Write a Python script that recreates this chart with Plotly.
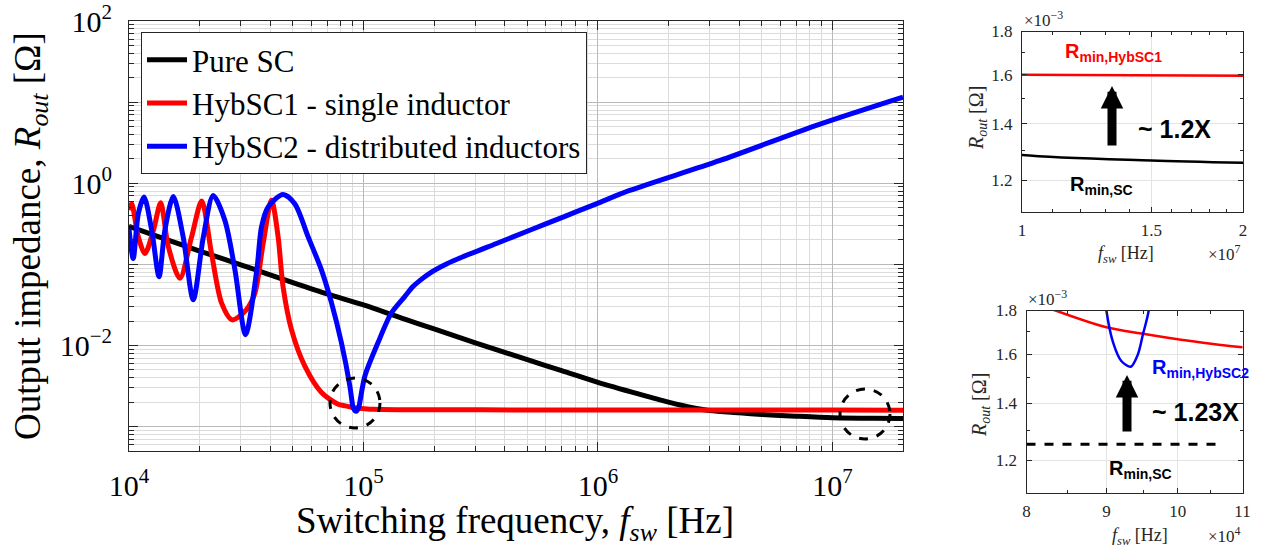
import plotly.graph_objects as go

W, H = 1261, 550

# ---------------- data ----------------
# Pure SC
f_sc = [1.0e4, 1.5e4, 2.0e4, 3.0e4, 5.0e4, 7.0e4, 1.0e5, 1.5e5, 2.0e5, 3.0e5, 5.0e5, 7.0e5,
        1.0e6, 1.5e6, 2.0e6, 2.5e6, 3.0e6, 4.0e6, 5.0e6, 7.0e6, 1.0e7, 1.5e7, 2.0e7]
r_sc = [0.295, 0.195, 0.146, 0.0989, 0.0596, 0.0432, 0.0316, 0.0211, 0.0160, 0.0108, 6.68e-3, 4.9e-3,
        3.51e-3, 2.51e-3, 2.0e-3, 1.72e-3, 1.574e-3, 1.48e-3, 1.413e-3, 1.343e-3, 1.285e-3, 1.266e-3,
        1.258e-3]

# HybSC1 - single inductor
f_h1 = [1.0e4, 1.026e4, 1.096e4, 1.169e4, 1.271e4, 1.365e4, 1.472e4, 1.648e4, 1.849e4, 2.042e4,
        2.249e4, 2.483e4, 2.754e4, 3.162e4, 3.443e4, 3.733e4, 4.055e4, 4.325e4, 4.539e4, 4.932e4,
        5.623e4, 6.622e4, 7.798e4, 8.35e4, 9.0e4, 9.5e4, 1.0e5, 1.1e5, 1.5e5, 2.0e5,
        5.0e5, 1.0e6, 1.0e7, 2.0e7]
r_h1 = [0.468, 0.562, 0.218, 0.136, 0.263, 0.575, 0.164, 0.0673, 0.218, 0.603,
        0.136, 0.0333, 0.0207, 0.0275, 0.0442, 0.181, 0.617, 0.218, 0.0532, 0.0157,
        5.56e-3, 2.63e-3, 1.89e-3, 1.80e-3, 1.72e-3, 1.69e-3, 1.665e-3, 1.63e-3, 1.615e-3, 1.61e-3,
        1.605e-3, 1.60e-3, 1.60e-3, 1.595e-3]

# HybSC2 - distributed inductors
f_h2 = [1.0e4, 1.042e4, 1.096e4, 1.159e4, 1.250e4, 1.343e4, 1.422e4, 1.545e4, 1.702e4, 1.879e4,
        2.075e4, 2.286e4, 2.564e4, 2.831e4, 3.141e4, 3.508e4, 3.673e4, 3.917e4, 4.539e4, 5.093e4,
        5.808e4, 6.622e4, 7.311e4, 8.054e4, 8.750e4, 9.0e4, 9.09e4, 9.2e4, 9.33e4, 9.43e4,
        9.5e4, 9.58e4, 1.014e5, 1.153e5, 1.315e5, 1.500e5, 1.626e5, 1.738e5, 1.914e5, 2.259e5,
        2.655e5, 3.690e5, 5.117e5, 7.096e5, 9.840e5, 1.365e6, 3.296e6, 8.790e6, 2.0e7]
r_h2 = [0.275, 0.118, 0.422, 0.675, 0.263, 0.0705, 0.263, 0.687, 0.219, 0.0366,
        0.218, 0.706, 0.349, 0.0851, 0.0136, 0.085, 0.289, 0.508, 0.728, 0.558,
        0.218, 0.0851, 0.0333, 0.0108, 3.16e-3, 1.80e-3, 1.65e-3, 1.57e-3, 1.546e-3, 1.60e-3,
        1.69e-3, 1.80e-3, 4.2e-3, 0.0108, 0.0251, 0.0401, 0.0532, 0.0631, 0.0776, 0.101,
        0.124, 0.181, 0.263, 0.383, 0.558, 0.815, 1.897, 5.33, 11.56]

# R_min,SC reference level (dashed, lower inset)
f_ref = [8.0e4, 1.07e5]
r_ref = [1.253e-3, 1.253e-3]

names = ["Pure SC", "HybSC1 - single inductor", "HybSC2 - distributed inductors"]
colors = ["#000000", "#ff0000", "#0000ff"]

main_xticks = [1e4, 1e5, 1e6, 1e7]
main_xtext = ["10<sup>4</sup>", "10<sup>5</sup>", "10<sup>6</sup>", "10<sup>7</sup>"]
main_yticks = [1e-3, 1e-2, 1e-1, 1e0, 1e1, 1e2]
main_ytext = ["", "10<sup>\u22122</sup>", "", "10<sup>0</sup>", "", "10<sup>2</sup>"]

in_yticks = [1.2e-3, 1.4e-3, 1.6e-3, 1.8e-3]
in_ytext = ["1.2", "1.4", "1.6", "1.8"]
top_xticks = [1.0e7, 1.5e7, 2.0e7]
top_xtext = ["1", "1.5", "2"]
bot_xticks = [8e4, 9e4, 1e5, 1.1e5]
bot_xtext = ["8", "9", "10", "11"]

# ---------------- helpers for layout ----------------
def fx(p):
    return p / W

def fy(p):
    return 1 - p / H

SERIF = "Liberation Serif"
SANS = "Liberation Sans"

main_minor_x = [k * 10 ** n for n in range(4, 8) for k in range(2, 10) if k * 10 ** n <= 2e7]
main_minor_y = [k * 10.0 ** n for n in range(-4, 2) for k in range(2, 10) if 5e-4 <= k * 10.0 ** n <= 100]

fig = go.Figure()

# main traces
for f, r, nm, c in zip([f_sc, f_h1, f_h2], [r_sc, r_h1, r_h2], names, colors):
    fig.add_trace(go.Scatter(x=f, y=r, name=nm, mode="lines",
                             line=dict(color=c, width=5, shape="spline", smoothing=0.8),
                             xaxis="x", yaxis="y"))

# top inset
for f, r, c in zip([f_h1, f_sc], [r_h1, r_sc], [colors[1], colors[0]]):
    fig.add_trace(go.Scatter(x=f, y=r, mode="lines", showlegend=False,
                             line=dict(color=c, width=2.5, shape="spline", smoothing=0.8),
                             xaxis="x2", yaxis="y2"))
# bottom inset
for f, r, c in zip([f_h1, f_h2], [r_h1, r_h2], [colors[1], colors[2]]):
    fig.add_trace(go.Scatter(x=f, y=r, mode="lines", showlegend=False,
                             line=dict(color=c, width=2.5, shape="spline", smoothing=0.8),
                             xaxis="x3", yaxis="y3"))
fig.add_trace(go.Scatter(x=f_ref, y=r_ref, mode="lines", showlegend=False,
                         line=dict(color="black", width=3, dash="dash"),
                         xaxis="x3", yaxis="y3"))

axis_common = dict(showline=True, linecolor="#262626", linewidth=1, mirror="allticks",
                   ticks="inside", tickcolor="#262626", zeroline=False, automargin=False,
                   ticklabeloverflow="allow")

fig.update_layout(
    width=W, height=H,
    margin=dict(l=0, r=0, t=0, b=0),
    paper_bgcolor="white", plot_bgcolor="white",
    showlegend=True,
    legend=dict(x=fx(141), y=fy(32), xanchor="left", yanchor="top",
                bgcolor="white", bordercolor="#262626", borderwidth=1,
                font=dict(family=SERIF, size=31, color="black"),
                tracegroupgap=0, itemwidth=40),
    xaxis=dict(type="log", range=[4, 7.30103], domain=[fx(129), fx(903)], anchor="y",
               tickvals=main_xticks, ticktext=main_xtext, ticklen=9,
               tickfont=dict(family=SERIF, size=30, color="black"), ticklabelstandoff=8,
               showgrid=True, gridcolor="#b9b9b9", gridwidth=1,
               minor=dict(tickvals=main_minor_x, ticks="inside", ticklen=5, tickcolor="#262626",
                          showgrid=True, gridcolor="#dcdcdc", gridwidth=1),
               **axis_common),
    yaxis=dict(type="log", range=[-3.30103, 2.0005], domain=[fy(451), fy(21)], anchor="x",
               tickvals=main_yticks, ticktext=main_ytext, ticklen=9,
               tickfont=dict(family=SERIF, size=30, color="black"), ticklabelstandoff=10,
               showgrid=True, gridcolor="#b9b9b9", gridwidth=1,
               minor=dict(tickvals=main_minor_y, ticks="inside", ticklen=5, tickcolor="#262626",
                          showgrid=True, gridcolor="#dcdcdc", gridwidth=1),
               **axis_common),
    xaxis2=dict(type="log", range=[7, 7.30103], domain=[fx(1022), fx(1243)], anchor="y2",
                tickvals=top_xticks, ticktext=top_xtext, ticklen=5,
                tickfont=dict(family=SERIF, size=17, color="#262626"), ticklabelstandoff=3,
                showgrid=True, gridcolor="#e3e3e3",
                minor=dict(tickvals=[1.1e7, 1.2e7, 1.3e7, 1.4e7, 1.6e7, 1.7e7, 1.8e7, 1.9e7],
                           ticks="inside", ticklen=3, tickcolor="#262626", showgrid=False),
                **axis_common),
    yaxis2=dict(type="log", range=[-2.95861, -2.74473], domain=[fy(212), fy(31.5)], anchor="x2",
                tickvals=in_yticks, ticktext=in_ytext, ticklen=5,
                tickfont=dict(family=SERIF, size=17, color="#262626"), ticklabelstandoff=5,
                showgrid=True, gridcolor="#e3e3e3",
                minor=dict(tickvals=[1.1e-3, 1.3e-3, 1.5e-3, 1.7e-3], ticks="inside", ticklen=3,
                           tickcolor="#262626", showgrid=False),
                **axis_common),
    xaxis3=dict(type="log", range=[4.90309, 5.04139], domain=[fx(1026.5), fx(1242.5)], anchor="y3",
                tickvals=bot_xticks, ticktext=bot_xtext, ticklen=5,
                tickfont=dict(family=SERIF, size=17, color="#262626"), ticklabelstandoff=3,
                showgrid=True, gridcolor="#e3e3e3",
                minor=dict(tickvals=[8.5e4, 9.5e4, 1.05e5], ticks="inside", ticklen=3,
                           tickcolor="#262626", showgrid=False),
                **axis_common),
    yaxis3=dict(type="log", range=[-2.95861, -2.74473], domain=[fy(492.5), fy(310.5)], anchor="x3",
                tickvals=in_yticks, ticktext=in_ytext, ticklen=5,
                tickfont=dict(family=SERIF, size=17, color="#262626"), ticklabelstandoff=5,
                showgrid=True, gridcolor="#e3e3e3",
                minor=dict(tickvals=[1.1e-3, 1.3e-3, 1.5e-3, 1.7e-3], ticks="inside", ticklen=3,
                           tickcolor="#262626", showgrid=False),
                **axis_common),
)

ann = []
def text(x, y, s, size, family=SERIF, color="black", xanchor="center", yanchor="middle", angle=0):
    ann.append(dict(x=fx(x), y=fy(y), xref="paper", yref="paper", text=s, showarrow=False,
                    xanchor=xanchor, yanchor=yanchor, textangle=angle,
                    font=dict(family=family, size=size, color=color)))

# main axis titles
text(515, 523, "Switching frequency, <i>f</i><sub><i>sw</i></sub> [Hz]", 37)
text(30, 236, "Output impedance, <i>R</i><sub><i>out</i></sub> [\u03a9]", 37, angle=-90)

# inset axis titles and multipliers
text(1126, 254, "<i>f</i><sub><i>sw</i></sub> [Hz]", 18, color="#262626")
text(977, 118, "<i>R</i><sub><i>out</i></sub> [\u03a9]", 20, color="#262626", angle=-90)
text(1022, 19, "\u00d710<sup>\u22123</sup>", 17, color="#262626", xanchor="left")
text(1243, 253, "\u00d710<sup>7</sup>", 17, color="#262626", xanchor="right")

text(1140, 536, "<i>f</i><sub><i>sw</i></sub> [Hz]", 18, color="#262626")
text(980, 405, "<i>R</i><sub><i>out</i></sub> [\u03a9]", 20, color="#262626", angle=-90)
text(1026, 298, "\u00d710<sup>\u22123</sup>", 17, color="#262626", xanchor="left")
text(1243, 535, "\u00d710<sup>4</sup>", 17, color="#262626", xanchor="right")

# bold inset labels
B = SANS
text(1063, 53, "<b>R<sub>min,HybSC1</sub></b>", 20, family=B, color="#ff0000", xanchor="left")
text(1136, 129, "<b>~ 1.2X</b>", 25, family=B, xanchor="left")
text(1068, 186, "<b>R<sub>min,SC</sub></b>", 20, family=B, xanchor="left")

text(1150, 368, "<b>R<sub>min,HybSC2</sub></b>", 20, family=B, color="#0000ff", xanchor="left")
text(1150, 412, "<b>~ 1.23X</b>", 25, family=B, xanchor="left")
text(1107, 469, "<b>R<sub>min,SC</sub></b>", 20, family=B, xanchor="left")

# thick arrows
for hx, hy, tail in [(1112, 86, 61), (1127, 375, 58)]:
    ann.append(dict(x=fx(hx), y=fy(hy), xref="paper", yref="paper", text="",
                    showarrow=True, ax=0, ay=tail, axref="pixel", ayref="pixel",
                    arrowhead=2, arrowsize=0.5, arrowwidth=9, arrowcolor="black", standoff=0))

fig.update_layout(annotations=ann)

# dashed circles marking the minima
for x0, x1, y0, y1 in [(330, 380, 378, 428), (840, 890, 389, 439)]:
    fig.add_shape(type="circle", xref="paper", yref="paper",
                  x0=fx(x0), x1=fx(x1), y0=fy(y1), y1=fy(y0),
                  line=dict(color="black", width=3, dash="dash"))

fig.write_html("out.html")
